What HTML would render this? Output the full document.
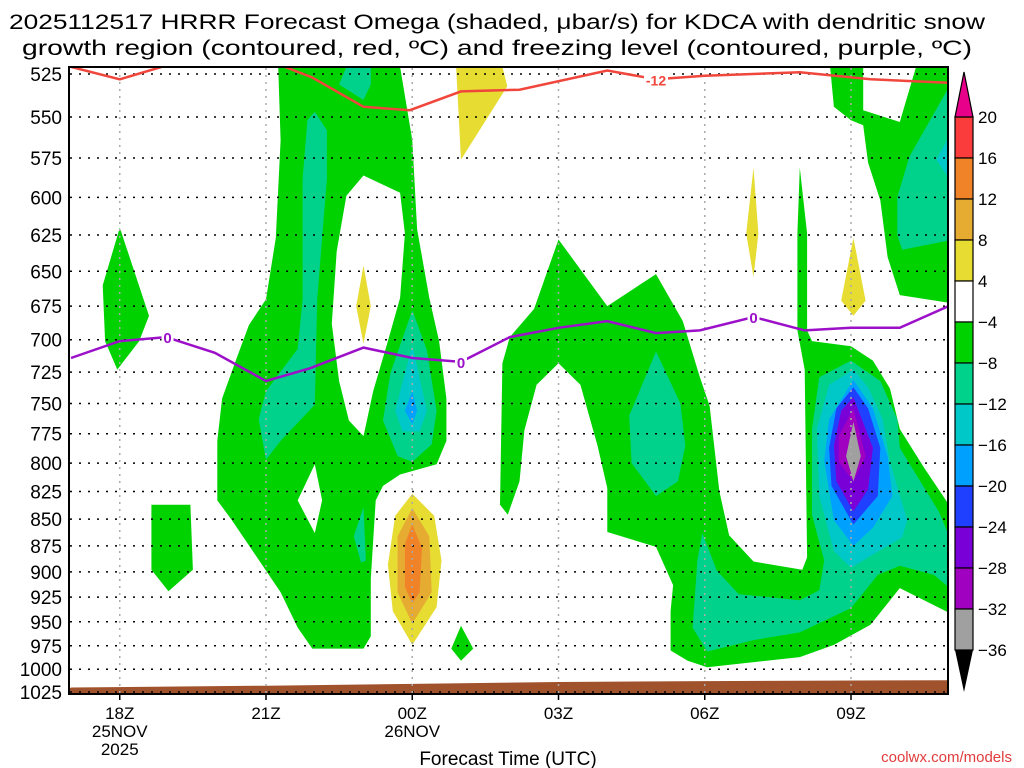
<!DOCTYPE html>
<html><head><meta charset="utf-8"><style>
html,body{margin:0;padding:0;background:#fff;}
svg{display:block;font-family:"Liberation Sans","DejaVu Sans",sans-serif;}
</style></head><body>
<svg id="chart" width="1024" height="768" viewBox="0 0 1024 768" xmlns="http://www.w3.org/2000/svg">
<text x="497" y="29" font-size="21" text-anchor="middle" textLength="976" lengthAdjust="spacingAndGlyphs">2025112517 HRRR Forecast Omega (shaded, μbar/s) for KDCA with dendritic snow</text>
<text x="497" y="55" font-size="21" text-anchor="middle" textLength="950" lengthAdjust="spacingAndGlyphs">growth region (contoured, red, ºC) and freezing level (contoured, purple, ºC)</text>
<defs><clipPath id="plotclip"><rect x="69" y="67" width="879" height="627"/></clipPath></defs>
<g id="fills" clip-path="url(#plotclip)"></g>
<g id="grid"></g>
<g id="lines" clip-path="url(#plotclip)"></g>
<rect x="69" y="67" width="879" height="627" fill="none" stroke="#000" stroke-width="2"/>
<g id="axes"></g>
<g id="colorbar"></g>
<text x="508" y="765" font-size="19" text-anchor="middle">Forecast Time (UTC)</text>
<text x="1012" y="762" font-size="15" text-anchor="end" fill="#e03c3c">coolwx.com/models</text>
</svg>
<script>
const pressureTicks=[525,550,575,600,625,650,675,700,725,750,775,800,825,850,875,900,925,950,975,1000,1025];
const timeTickHours=[18,21,24,27,30,33];
const timeTickLabels=["18Z","21Z","00Z","03Z","06Z","09Z"];
const timeTickDates=["25NOV","","26NOV","","",""];
const colorLevels=[20,16,12,8,4,-4,-8,-12,-16,-20,-24,-28,-32,-36];
const colorFills=["#fa3c3c","#f08228","#e6ac32","#e6dc32","#ffffff","#00d200","#00d28c","#00c8c8","#00a0ff","#2040ff","#7a00d8","#a000c0","#a0a0a0"];
const G="#00d200",T="#00d28c",C="#00c8c8",B="#00a0ff",DB="#2040ff",P="#7a00d8",M="#a000c0",GR="#a0a0a0",Y="#e6dc32",GO="#e6ac32",OR="#f08228";
const greenWest=[[21.25,521],[23.75,521],[24.0,564],[24.1,621],[24.35,669],[24.55,701],[24.7,746],[24.7,781],[24.5,801],[23.75,810],[23.4,820],[23.25,833],[23.15,907],[23.15,965],[23.0,978],[21.95,978],[21.65,956],[21.3,920],[20.8,885],[20.3,851],[20.0,833],[20.0,781],[20.1,746],[20.4,714],[20.65,689],[21.0,670],[21.2,627],[21.3,564]];
const holeWest=[[23.0,586],[23.75,597],[23.85,624],[23.75,669],[23.5,701],[23.2,740],[23.0,777],[22.7,764],[22.5,732],[22.35,688],[22.45,636],[22.65,599]];
const holeSmall=[[22.0,801],[22.15,833],[22.0,863],[21.65,833]];
const tealWestStrip=[[22.0,547],[22.25,558],[22.25,588],[22.05,670],[22.0,751],[21.3,781],[21.0,797],[20.85,763],[21.0,740],[21.65,707],[21.75,670],[21.75,588],[21.85,552]];
const tealWestTop=[[22.5,531],[22.65,521],[23.15,521],[23.15,531],[23.0,540]];
const tealWestLow=[[23.0,839],[23.05,889],[22.95,891],[22.8,866]];
const tealMid=[[24.0,678],[24.3,708],[24.5,756],[24.4,784],[24.0,799],[23.7,794],[23.4,764],[23.55,726]];
const cyanMid=[[24.0,704],[24.3,756],[24.15,773],[23.8,773],[23.65,756]];
const blueMid=[[24.0,740],[24.1,756],[24.0,767],[23.85,756]];
const yellowDiamond23=[[23.0,646],[23.15,675],[23.0,703],[22.85,675]];
const yellowSink=[[24.0,827],[24.45,847],[24.6,889],[24.5,935],[24.0,974],[23.6,939],[23.5,893],[23.65,847]];
const goldSink=[[24.0,840],[24.35,866],[24.4,920],[24.0,952],[23.7,920],[23.7,866]];
const orangeSink=[[24.0,855],[24.2,877],[24.15,920],[24.0,931],[23.85,915],[23.85,873]];
const greenSmall01=[[25.0,954],[25.25,978],[25.0,991],[24.8,978]];
const yellowTop=[[24.9,521],[25.85,521],[25.95,532],[25.0,576]];
const green18High=[[18.0,620],[18.6,682],[18.4,701],[17.95,723],[17.7,701],[17.65,660]];
const green18Low=[[18.65,837],[19.45,837],[19.5,898],[19.0,919],[18.65,898]];
const greenEast=[[25.96,846],[25.8,837],[25.85,718],[26.0,698],[26.5,677],[27.0,628],[28.0,675],[29.0,652],[29.55,686],[29.9,729],[30.1,752],[30.3,825],[30.5,865],[31.0,890],[32.0,898],[32.1,886],[32.05,723],[31.9,693],[31.9,624],[31.95,581],[32.1,624],[32.1,693],[32.2,701],[33.0,705],[33.45,716],[33.8,738],[34.0,771],[34.5,804],[35.1,843],[35.1,943],[34.0,916],[33.4,953],[32.65,974],[31.95,987],[30.05,998],[29.65,991],[29.3,980],[29.3,939],[29.35,913],[29.0,876],[28.0,862],[28.0,822],[27.8,785],[27.45,735],[27.0,718],[26.55,735],[26.3,772],[26.2,816]];
const tealEastOval=[[29.0,709],[29.5,750],[29.6,785],[29.45,816],[29.0,829],[28.5,800],[28.45,760]];
const tealEast=[[29.95,863],[30.25,899],[30.7,922],[31.95,928],[32.35,918],[32.45,889],[32.2,846],[32.2,771],[32.35,729],[33.0,716],[33.6,732],[33.95,763],[34.0,787],[34.8,843],[35.1,875],[35.1,919],[34.7,903],[34.0,894],[33.55,903],[33.0,936],[31.95,961],[31.0,969],[30.05,981],[29.75,956],[29.85,889]];
const cyanEast=[[33.05,723],[33.35,737],[33.65,763],[33.8,799],[34.15,851],[34.05,867],[33.35,886],[33.0,896],[32.65,880],[32.35,829],[32.3,771],[32.55,735]];
const blueEast=[[33.05,731],[33.45,754],[33.75,794],[33.85,829],[33.45,858],[33.05,875],[32.65,851],[32.45,798],[32.55,763]];
const darkBlueEast=[[33.05,737],[33.35,754],[33.6,787],[33.55,829],[33.05,855],[32.6,820],[32.55,787],[32.7,754]];
const purpleEast=[[33.05,745],[33.45,787],[33.35,823],[33.05,843],[32.7,816],[32.65,785],[32.8,756]];
const magentaEast=[[33.05,754],[33.3,794],[33.05,816],[32.75,799],[32.75,777]];
const grayEast=[[33.05,765],[33.2,794],[33.05,816],[32.9,794]];
const yellow07=[[31.0,581],[31.1,624],[31.0,654],[30.85,624]];
const yellow09=[[33.05,627],[33.3,671],[33.05,682],[32.8,671]];
const greenNE=[[32.55,515],[33.25,515],[33.25,546],[34.0,553],[34.4,515],[35.1,515],[35.1,673],[34.0,667],[33.75,640],[33.6,602],[33.35,578],[33.25,555],[33.0,552],[32.65,544]];
const tealNE=[[35.1,528],[34.2,574],[33.95,600],[33.95,625],[34.05,635],[35.1,628]];
const cyanNE=[[35.1,557],[34.75,576],[35.1,592]];
const groundTop=[[17,1020],[21,1018],[24,1016],[27,1014],[30,1013],[35,1012]];
const dgzWest=[[17.0,521],[18.0,528],[19.1,519]];
const dgzEast=[[21.2,519],[21.95,527],[23.0,544],[23.95,546],[25.0,535],[26.2,534],[28.0,523],[29.0,528],[30.0,526],[31.95,524],[33.4,528],[35.0,530]];
const freezeLine=[[17.0,714],[18.0,701],[18.95,698],[19.95,710],[21.0,732],[21.9,722],[23.0,706],[24.0,714],[25.0,717],[26.0,698],[27.0,691],[28.0,686],[29.0,695],[29.9,693],[31.0,683],[32.05,693],[33.0,691],[34.0,691],[35.0,675]];
const freezeLabels=[[18.98,698],[25.0,717],[31.0,683]];
const dgzLabels=[[29.0,528]];

const NS="http://www.w3.org/2000/svg";
function xs(h){return 71+(h-17)*48.75;}
function ys(p){return 74+(Math.log(p)-Math.log(525))/(Math.log(1025)-Math.log(525))*618;}
function mk(tag,attrs,parent){const e=document.createElementNS(NS,tag);for(const k in attrs)e.setAttribute(k,attrs[k]);parent.appendChild(e);return e;}
function pts(a){return a.map(d=>xs(d[0]).toFixed(1)+","+ys(d[1]).toFixed(1)).join(" ");}
const fills=document.getElementById("fills");
const layers=[
 ["green-region-west",greenWest,G],["hole-west",holeWest,"#fff"],["hole-small",holeSmall,"#fff"],
 ["teal-strip-west",tealWestStrip,T],["teal-top-west",tealWestTop,T],["teal-low-west",tealWestLow,T],
 ["teal-mid",tealMid,T],["cyan-mid",cyanMid,C],["blue-mid",blueMid,B],["yellow-diamond-23z",yellowDiamond23,Y],
 ["yellow-sink",yellowSink,Y],["gold-sink",goldSink,GO],["orange-sink",orangeSink,OR],["green-small-01z",greenSmall01,G],
 ["yellow-top",yellowTop,Y],["green-18z-high",green18High,G],["green-18z-low",green18Low,G],
 ["green-region-east",greenEast,G],["teal-oval-east",tealEastOval,T],["teal-east",tealEast,T],["cyan-east",cyanEast,C],
 ["blue-east",blueEast,B],["dark-blue-east",darkBlueEast,DB],["purple-east",purpleEast,P],["magenta-east",magentaEast,M],["gray-east",grayEast,GR],
 ["yellow-07z",yellow07,Y],["yellow-09z",yellow09,Y],["green-northeast",greenNE,G],["teal-northeast",tealNE,T],["cyan-northeast",cyanNE,C]
];
layers.forEach(l=>{
 const e=mk("polygon",{points:pts(l[1]),fill:l[2]},fills);
 
 
});
const gp=groundTop.concat([[36,1060],[16,1060]]);
const ground=mk("polygon",{points:pts(gp),fill:"#a0522d"},fills);


const grid=document.getElementById("grid");
pressureTicks.forEach(p=>{const y=ys(p);
 const l=mk("line",{x1:70,x2:947,y1:y,y2:y,stroke:"#000","stroke-width":1.5,"stroke-dasharray":"2,7"},grid);
 
 
});
timeTickHours.forEach(h=>{const x=xs(h);
 const l=mk("line",{x1:x,x2:x,y1:68,y2:693,stroke:"#aaa","stroke-width":1.5,"stroke-dasharray":"2,5"},grid);
 
 
});
const lines=document.getElementById("lines");
[dgzWest,dgzEast].forEach(a=>{const e=mk("polyline",{points:pts(a),fill:"none",stroke:"#f0463c","stroke-width":2.5},lines);
 
 });
const fz=mk("polyline",{points:pts(freezeLine),fill:"none",stroke:"#9b10c8","stroke-width":2.5},lines);


freezeLabels.forEach(d=>{
 mk("rect",{x:xs(d[0])-6,y:ys(d[1])-8,width:12,height:16,fill:"#fff"},lines);
 const t=mk("text",{x:xs(d[0]),y:ys(d[1])+6,"font-size":15,"font-weight":"bold","text-anchor":"middle",fill:"#9b10c8"},lines);
 t.textContent="0";
 
 
});
dgzLabels.forEach(d=>{
 mk("rect",{x:xs(d[0])-12,y:ys(d[1])-7,width:24,height:14,fill:"#fff"},lines);
 const t=mk("text",{x:xs(d[0]),y:ys(d[1])+6,"font-size":14,"font-weight":"bold","text-anchor":"middle",fill:"#f0463c"},lines);
 t.textContent="-12";
 
 
});
const axes=document.getElementById("axes");
pressureTicks.forEach(p=>{const y=ys(p);
 const t=mk("text",{x:62,y:y+7,"font-size":19,"text-anchor":"end"},axes);t.textContent=p;
 
 
});
timeTickHours.forEach((h,i)=>{const x=xs(h);
 mk("line",{x1:x,x2:x,y1:694,y2:700,stroke:"#000","stroke-width":1.5},axes);
 const t=mk("text",{x:x,y:719,"font-size":17,"text-anchor":"middle"},axes);t.textContent=timeTickLabels[i];
 
 
 if(timeTickDates[i]){const d=mk("text",{x:x,y:737,"font-size":17,"text-anchor":"middle"},axes);d.textContent=timeTickDates[i];
  
  }
});
const yr=mk("text",{x:xs(18),y:755,"font-size":17,"text-anchor":"middle"},axes);yr.textContent="2025";


const cb=document.getElementById("colorbar");
const cbTop=117,bh=41,cx=955,cw=18;
colorFills.forEach((c,i)=>{const r=mk("rect",{x:cx,y:cbTop+i*bh,width:cw,height:bh,fill:c,stroke:"#000","stroke-width":1.2},cb);
 
 });
const tt=mk("polygon",{points:`${cx},${cbTop} ${cx+cw},${cbTop} ${cx+cw/2},${cbTop-45}`,fill:"#e8008a",stroke:"#000","stroke-width":1.2},cb);


const bt=mk("polygon",{points:`${cx},${cbTop+13*bh} ${cx+cw},${cbTop+13*bh} ${cx+cw/2},${cbTop+13*bh+42}`,fill:"#000"},cb);


colorLevels.forEach((v,i)=>{const t=mk("text",{x:978,y:cbTop+i*bh+6,"font-size":17},cb);t.textContent=v<0?"\u2212"+(-v):v;
 
 });
</script>
</body></html>
